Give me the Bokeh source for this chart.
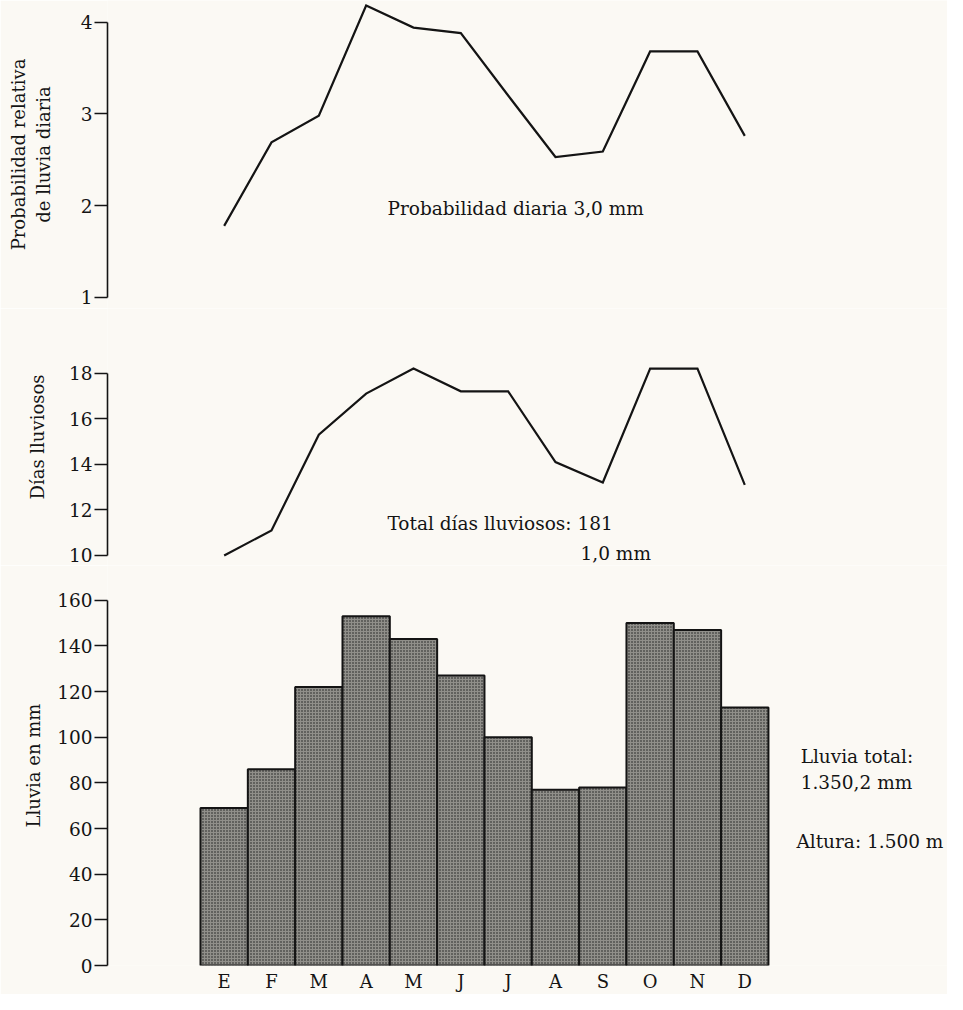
from bokeh.plotting import figure
from bokeh.layouts import column
from bokeh.models import Range1d, FixedTicker, ColumnDataSource
from bokeh.core.properties import value
from bokeh.embed import file_html
from bokeh.resources import INLINE

# ---------------- data ----------------
months = ["E", "F", "M", "A", "M", "J", "J", "A", "S", "O", "N", "D"]
prob_3mm = [1.78, 2.69, 2.98, 4.18, 3.94, 3.88, 3.20, 2.53, 2.59, 3.68, 3.68, 2.76]
rain_days = [10.0, 11.1, 15.3, 17.1, 18.2, 17.2, 17.2, 14.1, 13.2, 18.2, 18.2, 13.1]
rain_mm = [69, 86, 122, 153, 143, 127, 100, 77, 78, 150, 147, 113]

prob_ticks = [1, 2, 3, 4]
days_ticks = [10, 12, 14, 16, 18]
rain_ticks = [0, 20, 40, 60, 80, 100, 120, 140, 160]

idx = list(range(len(months)))
src = ColumnDataSource(dict(x=idx, prob=prob_3mm, days=rain_days, rain=rain_mm))

# ---------------- style ----------------
FONT = "DejaVu Serif"
PAPER = "#fbf9f4"
INK = "#141414"
W = 947
X0, X1 = -2.465, 15.283
xr = Range1d(X0, X1)


def make(height, y0, y1, mbb, with_x=False):
    p = figure(width=W, height=height, x_range=xr, y_range=Range1d(y0, y1),
               output_backend="svg", toolbar_location=None,
               x_axis_location="below" if with_x else None,
               min_border_left=107, min_border_right=0,
               min_border_top=0, min_border_bottom=mbb)
    p.grid.visible = False
    p.outline_line_color = None
    p.background_fill_color = PAPER
    p.border_fill_color = PAPER
    ax = p.yaxis[0]
    ax.axis_line_color = INK
    ax.axis_line_width = 1.6
    ax.major_tick_line_color = INK
    ax.major_tick_line_width = 1.6
    ax.major_tick_out = 13
    ax.major_tick_in = 0
    ax.minor_tick_line_color = None
    ax.major_label_standoff = 2
    ax.major_label_text_font = FONT
    ax.major_label_text_font_size = "18.5px"
    ax.major_label_text_color = INK
    ax.axis_label_text_font = FONT
    ax.axis_label_text_font_size = "18px"
    ax.axis_label_text_font_style = "normal"
    ax.axis_label_text_color = INK
    return p


def note(p, x, y, txt):
    p.text(x=[x], y=[y], text=[txt], text_font=value(FONT), text_font_size="18.5px",
           text_color=INK, text_baseline="middle", text_align="left")


# ---- top: probability of daily rain ----
p1 = make(308, 0.880, 4.235, 0)
a1 = p1.yaxis[0]
a1.bounds = (1, 4)
a1.ticker = FixedTicker(ticks=prob_ticks)
a1.axis_label = "Probabilidad relativa\nde lluvia diaria"
a1.axis_label_standoff = 24
p1.line("x", "prob", source=src, line_color=INK, line_width=2.2, line_join="miter")
note(p1, 3.45, 1.97, "Probabilidad diaria 3,0 mm")

# ---- middle: rainy days ----
p2 = make(257, 9.561, 20.833, 0)
a2 = p2.yaxis[0]
a2.bounds = (10, 18)
a2.ticker = FixedTicker(ticks=days_ticks)
a2.axis_label = "Días lluviosos"
a2.axis_label_standoff = 18
p2.line("x", "days", source=src, line_color=INK, line_width=2.2, line_join="miter")
note(p2, 3.45, 11.40, "Total días lluviosos: 181")
note(p2, 7.53, 10.09, "1,0 mm")

# ---- bottom: monthly rainfall bars ----
p3 = make(429, 0, 175.2, 27, with_x=True)
a3 = p3.yaxis[0]
a3.bounds = (0, 160)
a3.ticker = FixedTicker(ticks=rain_ticks)
a3.axis_label = "Lluvia en mm"
a3.axis_label_standoff = 10
p3.vbar(x="x", top="rain", bottom=0, width=1.0, source=src,
        fill_color="#908f8a", line_color=INK, line_width=2,
        hatch_pattern="dot", hatch_color="#1a1a1a", hatch_scale=3.0, hatch_weight=2.4)
xa = p3.xaxis[0]
xa.ticker = FixedTicker(ticks=idx)
xa.major_label_overrides = {i: m for i, m in enumerate(months)}
xa.axis_line_color = None
xa.major_tick_line_color = None
xa.minor_tick_line_color = None
xa.major_tick_out = 0
xa.major_tick_in = 0
xa.major_label_standoff = 5
xa.major_label_text_font = FONT
xa.major_label_text_font_size = "18px"
xa.major_label_text_color = INK
note(p3, 12.18, 91.5, "Lluvia total:")
note(p3, 12.18, 80.2, "1.350,2 mm")
note(p3, 12.09, 54.5, "Altura: 1.500 m")

layout = column(p1, p2, p3, spacing=0)
open("out.html", "w").write(file_html(layout, INLINE))
